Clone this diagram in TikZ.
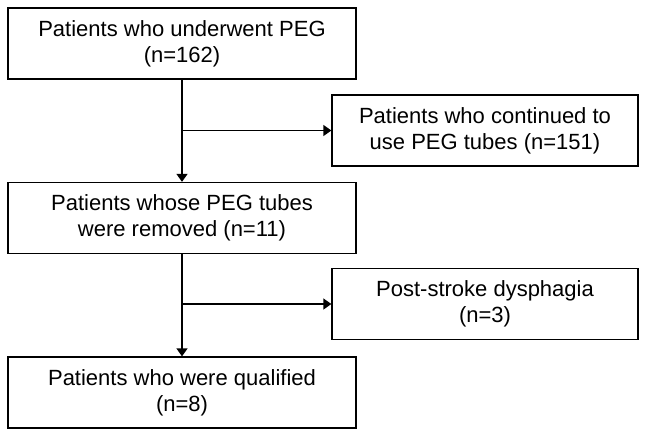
\documentclass[tikz,border=0pt]{standalone}
\usepackage{fontspec}
\setmainfont{Liberation Sans}
\usetikzlibrary{arrows.meta}

\begin{document}
\begin{tikzpicture}[x=1pt, y=-1pt,
    stagebox/.style={draw, line width=1.3pt, align=center, minimum width=348pt, minimum height=71pt, inner sep=0pt, font=\fontsize{22}{26}\selectfont},
    sidebox/.style={stagebox, minimum width=306pt},
    flow/.style={line width=1.3pt, -{Triangle[length=8pt, width=11pt]}}]
    \useasboundingbox (0,0) rectangle (647,437);

    % Main stages
    \node[stagebox] (peg) at (182,43.5) {Patients who underwent PEG\\(n=162)};
    \node[stagebox] (removed) at (182,218) {Patients whose PEG tubes\\were removed (n=11)};
    \node[stagebox] (qualified) at (182,392.5) {Patients who were qualified\\(n=8)};

    % Excluded
    \node[sidebox] (continued) at (485,130.5) {Patients who continued to\\use PEG tubes (n=151)};
    \node[sidebox] (stroke) at (485,304) {Post-stroke dysphagia\\(n=3)};

    % Arrows
    \draw[flow] (peg) -- (removed);
    \draw[flow] (removed) -- (qualified);
    \coordinate (split1) at (peg.south |- continued.west);
    \coordinate (split2) at (removed.south |- stroke.west);
    \draw[flow] (split1) -- (continued);
    \draw[flow] (split2) -- (stroke);
\end{tikzpicture}
\end{document}
